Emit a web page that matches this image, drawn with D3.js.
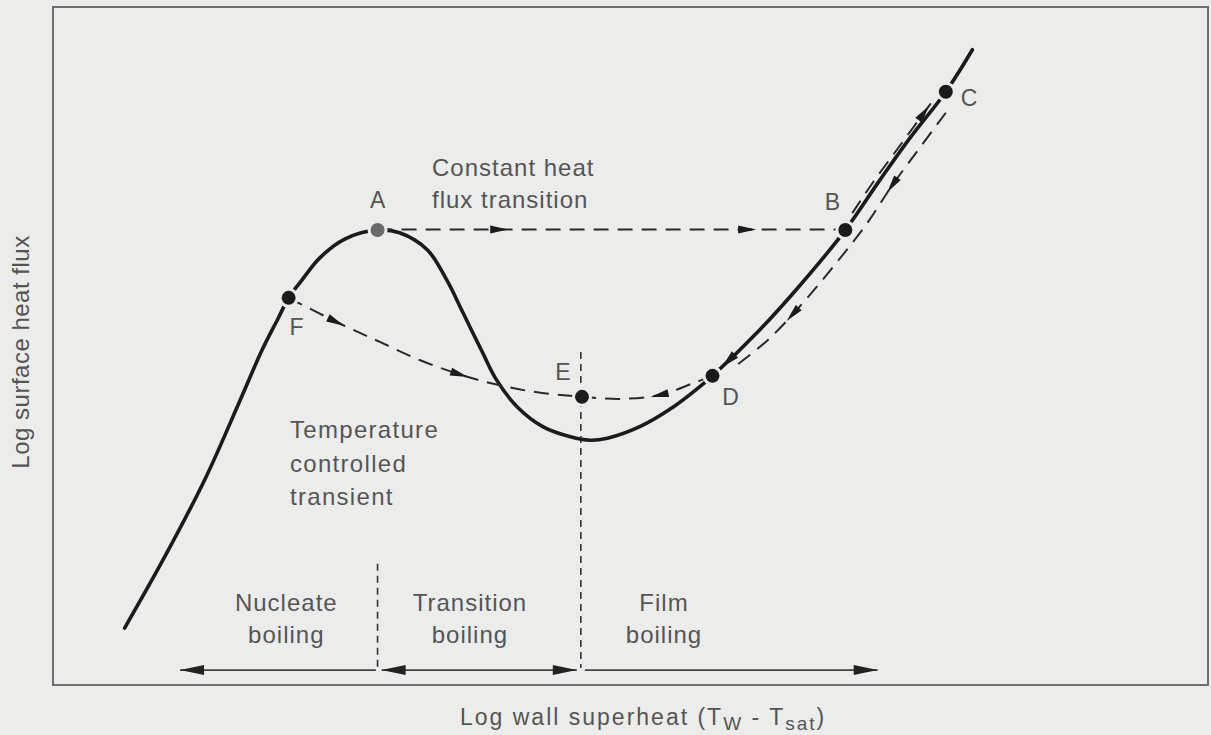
<!DOCTYPE html>
<html>
<head>
<meta charset="utf-8">
<script src="https://cdn.jsdelivr.net/npm/d3@7"></script>
<style>
  html, body { margin: 0; padding: 0; background: #ececea; }
  svg { display: block; }
  text { font-family: "Liberation Sans", Arial, Helvetica, sans-serif; fill: #555; }
</style>
</head>
<body>
<svg id="chart" width="1211" height="735"></svg>
<script>
// Boiling curve in arbitrary log units (0–100 on both axes)
const curveX = [6.2, 9.7, 13.2, 16.2, 18.1, 19.5, 20.4, 21.5, 23.1, 25.3, 28.1, 30.0, 32.4, 34.1, 35.5, 37.2, 38.4, 40.2, 42.4, 44.8, 46.5, 48.0, 50.8, 53.7, 56.0, 57.1, 61.2, 64.7, 68.6, 71.6, 74.2, 77.3, 79.6];
const curveY = [8.4, 19.0, 30.5, 42.0, 49.4, 54.1, 57.1, 59.6, 63.0, 65.8, 67.1, 66.7, 64.2, 59.7, 54.9, 49.0, 45.0, 41.0, 38.1, 36.6, 36.1, 36.4, 38.1, 41.0, 44.0, 45.6, 52.4, 59.0, 67.1, 74.5, 80.7, 87.5, 93.7];

// Marked states on the curve
const pointNames = ["A", "B", "C", "D", "E", "F"];
const pointX = [28.1, 68.6, 77.3, 57.1, 45.8, 20.4];
const pointY = [67.1, 67.1, 87.5, 45.6, 42.5, 57.1];

// Transient paths (dashed)
const pathABX = [28.1, 68.6];
const pathABY = [67.2, 67.2];
const pathFEX = [20.4, 24.6, 28.3, 31.8, 35.4, 38.7, 42.2, 45.8];
const pathFEY = [57.1, 53.5, 50.6, 47.9, 45.7, 44.2, 43.1, 42.5];
const pathDEX = [57.1, 55.4, 52.6, 49.1, 45.8];
const pathDEY = [45.6, 44.5, 42.8, 42.2, 42.5];
const pathBCX = [69.2, 70.9, 73.3, 76.1];
const pathBCY = [69.6, 73.9, 79.5, 86.0];
const pathCDX = [77.3, 74.9, 72.7, 70.4, 67.7, 64.9, 61.9, 58.9];
const pathCDY = [84.4, 78.9, 73.8, 67.9, 62.0, 56.3, 50.9, 46.8];

// Arrowhead positions along each transient path (fraction of length)
const arrowsAB = [0.26, 0.79];
const arrowsFE = [0.17, 0.6];
const arrowsDE = [0.42];
const arrowsBC = [0.9];
const arrowsCD = [0.27, 0.76];

// Boiling regimes along the superheat axis
const regimeEdges = [11.0, 28.1, 45.7, 71.4];
const regimeNames = [["Nucleate", "boiling"], ["Transition", "boiling"], ["Film", "boiling"]];
const regimeLabelX = [20.2, 36.1, 52.9];
const regimeDividerTop = [17.9, 49.1];
const regimeArrowY = 2.2;

const svg = d3.select("#chart");
const frame = { left: 53, top: 7, right: 1208, bottom: 685 };

const x = d3.scaleLinear().domain([0, 100]).range([frame.left, frame.right]);
const y = d3.scaleLinear().domain([0, 100]).range([frame.bottom, frame.top]);

const ink = "#1b1b1b";
const bg = "#ececea";

// Frame
svg.append("rect")
  .attr("x", frame.left).attr("y", frame.top)
  .attr("width", frame.right - frame.left).attr("height", frame.bottom - frame.top)
  .attr("fill", "none").attr("stroke", "#6e6e6e").attr("stroke-width", 2);

const zip = (a, b) => a.map((v, i) => [v, b[i]]);

// Regime dividers
regimeDividerTop.forEach((top, i) => {
  svg.append("line")
    .attr("x1", x(regimeEdges[i + 1])).attr("x2", x(regimeEdges[i + 1]))
    .attr("y1", y(top)).attr("y2", y(regimeArrowY) - 2)
    .attr("stroke", "#333").attr("stroke-width", 1.6).attr("stroke-dasharray", "7,5");
});

// Regime extent arrows
function headAt(px, py, dir, len, half) {
  svg.append("path")
    .attr("d", `M${px},${py} L${px - dir * len},${py - half} L${px - dir * len},${py + half} Z`)
    .attr("fill", "#222");
}
const ay = y(regimeArrowY);
const segs = [
  { a: regimeEdges[1] - 0.15, b: regimeEdges[0], heads: [false, true] },
  { a: regimeEdges[1] + 0.35, b: regimeEdges[2] - 0.35, heads: [true, true] },
  { a: regimeEdges[2] + 0.35, b: regimeEdges[3], heads: [false, true] }
];
segs.forEach(s => {
  svg.append("line")
    .attr("x1", x(s.a)).attr("x2", x(s.b)).attr("y1", ay).attr("y2", ay)
    .attr("stroke", "#444").attr("stroke-width", 1.6);
  const dirB = x(s.b) > x(s.a) ? 1 : -1;
  if (s.heads[1]) headAt(x(s.b), ay, dirB, 24, 5);
  if (s.heads[0]) headAt(x(s.a), ay, -dirB, 24, 5);
});

// Regime labels
regimeNames.forEach((lines, i) => {
  const t = svg.append("text").attr("text-anchor", "middle")
    .attr("font-size", 24).attr("letter-spacing", 1);
  lines.forEach((s, k) => t.append("tspan").attr("x", x(regimeLabelX[i])).attr("y", 611 + k * 32).text(s));
});

// Main boiling curve
const mainPath = svg.append("path")
  .datum(zip(curveX, curveY))
  .attr("d", d3.line().x(d => x(d[0])).y(d => y(d[1])).curve(d3.curveCatmullRom.alpha(0.5)))
  .attr("fill", "none").attr("stroke", ink).attr("stroke-width", 3.6)
  .attr("stroke-linecap", "round");

// Dashed transient paths
const dashLine = d3.line().x(d => x(d[0])).y(d => y(d[1])).curve(d3.curveCatmullRom.alpha(0.5));
function arrowAtLength(node, l, reverse, len, half, fill) {
  const L = node.getTotalLength();
  const p = node.getPointAtLength(l);
  const p1 = node.getPointAtLength(Math.max(0, l - 2));
  const p2 = node.getPointAtLength(Math.min(L, l + 2));
  let ang = Math.atan2(p2.y - p1.y, p2.x - p1.x) * 180 / Math.PI;
  if (reverse) ang += 180;
  svg.append("path")
    .attr("d", `M${len},0 L${-len},${-half} L${-len},${half} Z`)
    .attr("transform", `translate(${p.x},${p.y}) rotate(${ang})`)
    .attr("fill", fill);
}
function dashedPath(xs, ys, fracs) {
  const p = svg.append("path")
    .datum(zip(xs, ys))
    .attr("d", dashLine)
    .attr("fill", "none").attr("stroke", "#2a2a2a").attr("stroke-width", 2)
    .attr("stroke-dasharray", "15,9");
  const node = p.node();
  const L = node.getTotalLength();
  fracs.forEach(f => arrowAtLength(node, L * f, false, 9, 4, "#1b1b1b"));
  return p;
}

dashedPath(pathABX, pathABY, arrowsAB);
dashedPath(pathFEX, pathFEY, arrowsFE);
dashedPath(pathDEX, pathDEY, arrowsDE);
dashedPath(pathBCX, pathBCY, arrowsBC);
dashedPath(pathCDX, pathCDY, arrowsCD);

// Solid arrowhead on the film-boiling branch, pointing down towards D
(function () {
  const node = mainPath.node();
  const L = node.getTotalLength();
  const tx = x(pointX[3]), ty = y(pointY[3]);
  let best = 0, bestD = Infinity;
  for (let l = 0; l <= L; l += 1) {
    const p = node.getPointAtLength(l);
    const d = (p.x - tx) ** 2 + (p.y - ty) ** 2;
    if (d < bestD) { bestD = d; best = l; }
  }
  arrowAtLength(node, best + 22, true, 9, 4.5, ink);
})();

// State points and their letters
const labelOffset = {
  A: [0, -22, "middle"], B: [-13, -20, "middle"], C: [15, 14, "start"],
  D: [18, 29, "middle"], E: [-19, -17, "middle"], F: [8, 37, "middle"]
};
pointNames.forEach((n, i) => {
  const px = x(pointX[i]), py = y(pointY[i]);
  svg.append("circle")
    .attr("cx", px).attr("cy", py).attr("r", 8.5)
    .attr("fill", n === "A" ? "#6a6a6a" : ink)
    .attr("stroke", bg).attr("stroke-width", 3);
  const o = labelOffset[n];
  svg.append("text")
    .attr("x", px + o[0]).attr("y", py + o[1])
    .attr("text-anchor", o[2]).attr("font-size", 23)
    .text(n);
});

// Annotations
const ann1 = svg.append("text").attr("font-size", 24).attr("letter-spacing", 1);
["Constant heat", "flux transition"].forEach((s, k) =>
  ann1.append("tspan").attr("x", 432).attr("y", 176 + k * 32).text(s));
const ann2 = svg.append("text").attr("font-size", 24).attr("letter-spacing", 1.3);
["Temperature", "controlled", "transient"].forEach((s, k) =>
  ann2.append("tspan").attr("x", 290).attr("y", 438 + k * 33.5).text(s));

// Axis titles
const xt = svg.append("text").attr("x", 460).attr("y", 725)
  .attr("font-size", 23).attr("letter-spacing", 2);
xt.append("tspan").text("Log wall superheat (T");
xt.append("tspan").attr("font-size", 19).attr("dy", 5).text("W");
xt.append("tspan").attr("dy", -5).text(" - T");
xt.append("tspan").attr("font-size", 19).attr("dy", 5).text("sat");
xt.append("tspan").attr("dy", -5).text(")");

svg.append("text")
  .attr("transform", `translate(29, 352) rotate(-90)`)
  .attr("text-anchor", "middle").attr("font-size", 24).attr("letter-spacing", 0.5)
  .text("Log surface heat flux");
</script>
</body>
</html>
